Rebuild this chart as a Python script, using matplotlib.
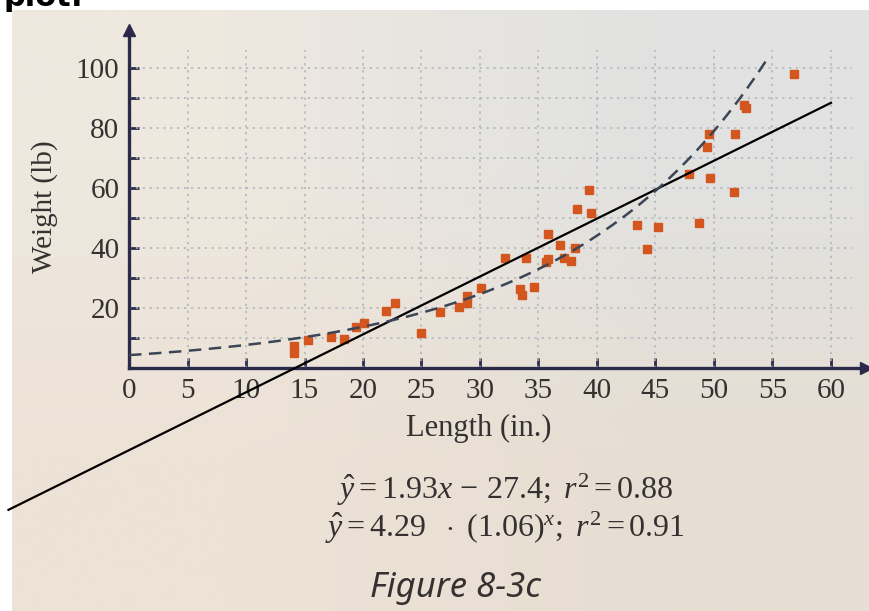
import numpy as np
import matplotlib
matplotlib.use("Agg")
import matplotlib.pyplot as plt
from matplotlib.colors import to_rgb

# Fish length vs weight
lengths = [14.1, 14.1, 15.3, 17.3, 18.4, 19.4, 20.1, 22.0, 22.7, 25.0,
           26.6, 28.2, 28.9, 28.9, 30.1, 32.1, 33.4, 33.6, 33.9, 34.6,
           35.6, 35.8, 35.8, 36.8, 37.2, 37.8, 38.1, 38.3, 39.3, 39.5,
           43.4, 44.3, 45.2, 47.9, 48.7, 49.4, 49.6, 49.7, 51.7, 51.8,
           52.6, 52.7, 56.8]
weights = [5.0, 7.3, 9.3, 10.2, 9.6, 13.8, 15.1, 19.0, 21.8, 11.8,
           18.7, 20.5, 21.8, 24.1, 26.7, 36.8, 26.2, 24.3, 36.8, 27.1,
           35.5, 36.3, 44.8, 41.0, 36.8, 35.7, 39.9, 52.9, 59.3, 51.7,
           47.8, 39.8, 47.0, 64.8, 48.4, 73.8, 77.9, 63.5, 58.8, 78.1,
           87.8, 86.6, 98.1]

# fitted models shown under the chart
lin_slope, lin_icpt = 1.93, -27.4
exp_a, exp_b = 4.29, 1.06
lin_range = (-10.3, 60)
exp_range = (0, 54.4)

x_ticks = list(range(0, 65, 5))
y_ticks = list(range(0, 110, 10))
y_labels = ["" if v % 20 or v == 0 else str(v) for v in y_ticks]

W, H = 869, 611
navy = "#2c2a4a"
dot_color = "#d4561f"
text_color = "#353131"

plt.rcParams["mathtext.fontset"] = "custom"
plt.rcParams["mathtext.rm"] = "Liberation Serif"
plt.rcParams["mathtext.it"] = "Liberation Serif:italic"

fig = plt.figure(figsize=(W / 100, H / 100), dpi=100)
fig.patch.set_facecolor("white")


def px(x, y):
    # pixel position (from top-left) to figure fraction
    return x / W, 1 - y / H


# photo-paper background
bg = fig.add_axes([12 / W, 0, 1 - 12 / W, 1 - 10 / H])
corners = np.array([[to_rgb("#eee8df"), to_rgb("#e1e2e1")],
                    [to_rgb("#ede2d6"), to_rgb("#e7ded3")]])
bg.imshow(corners, aspect="auto", interpolation="bilinear", extent=[0, 1, 0, 1])
bg.axis("off")

# main axes: x=0 at px 129, 11.7 px/in; y=0 at px 368, 3 px/lb
x0, y0, sx, sy = 129, 368, 11.7, 3.0
xmax, ymax = 63, 112.7
ax = fig.add_axes([x0 / W, (H - y0) / H, xmax * sx / W, ymax * sy / H])
ax.set_facecolor("none")
ax.set_xlim(0, xmax)
ax.set_ylim(0, ymax)

for s in ["top", "right"]:
    ax.spines[s].set_visible(False)
for s in ["left", "bottom"]:
    ax.spines[s].set_color(navy)
    ax.spines[s].set_linewidth(2.4)
ax.plot(1, 0, ">", color=navy, markersize=9, transform=ax.transAxes, clip_on=False)
ax.plot(0, 1, "^", color=navy, markersize=9, transform=ax.transAxes, clip_on=False)

# dotted grid
ax.vlines(x_ticks[1:], 0, 106, colors="#aeb5bd", linestyles=(0, (1.5, 3)), linewidth=1.1)
ax.hlines(y_ticks[1:], 0, 61.8, colors="#aeb5bd", linestyles=(0, (1.5, 3)), linewidth=1.1)

ax.set_xticks(x_ticks)
ax.set_yticks(y_ticks)
ax.set_yticklabels(y_labels)
ax.tick_params(direction="in", length=7, width=2, color=navy, labelcolor=text_color,
               labelsize=21, pad=7)
for lab in ax.get_xticklabels() + ax.get_yticklabels():
    lab.set_fontfamily("Liberation Serif")

# data and fits
ax.plot(lengths, weights, "s", color=dot_color, markersize=5.5, zorder=3)
xl = np.array(lin_range)
ax.plot(xl, lin_slope * xl + lin_icpt, color="black", linewidth=1.6, clip_on=False, zorder=4)
xe = np.linspace(*exp_range, 200)
ax.plot(xe, exp_a * exp_b ** xe, color="#3a4556", linewidth=1.8,
        linestyle=(0, (5, 3)), zorder=4)

# text
fig.text(*px(45, 207), "Weight (lb)", rotation=90, ha="center", va="center",
         fontsize=21, family="Liberation Serif", color=text_color)
fig.text(*px(479, 428), "Length (in.)", ha="center", va="center",
         fontsize=22, family="Liberation Serif", color=text_color)
fig.text(*px(505, 490), r"$\hat{y} = 1.93x\, -\, 27.4;\ r^2 = 0.88$", ha="center",
         va="center", fontsize=23, color=text_color)
fig.text(*px(505, 528), r"$\hat{y} = 4.29\ \ \cdot\ (1.06)^x;\ r^2 = 0.91$", ha="center",
         va="center", fontsize=23, color=text_color)
fig.text(*px(455, 588), "Figure 8-3c", ha="center", va="center", fontsize=25,
         family="Noto Sans", style="italic", color=text_color)
fig.text(*px(4, -3), "plot:", ha="left", va="center", fontsize=22,
         fontweight="bold", family="DejaVu Sans", color="black")

fig.savefig("out.png", dpi=100)
